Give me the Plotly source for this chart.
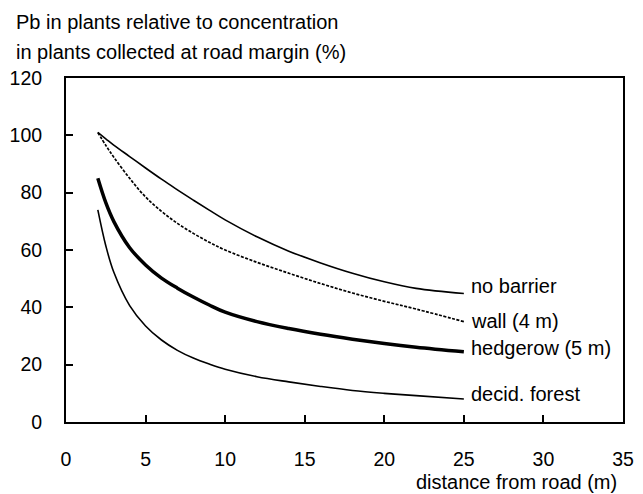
import plotly.graph_objects as go

# distance from road (m)
dist = [2, 2.5, 3, 4, 5, 6, 7, 8, 9, 10, 12, 14, 16, 18, 20, 22, 25]

no_barrier = [101, 98.8, 96.6, 92.6, 88.6, 84.7, 81.0, 77.4, 73.9, 70.5, 64.6, 59.6, 55.5, 51.9, 48.9, 46.6, 44.8]
wall_4m = [101, 96.5, 92.4, 85.0, 78.5, 73.5, 69.3, 65.8, 62.7, 60.0, 55.7, 51.9, 48.3, 45.0, 42.1, 39.4, 35.0]
hedgerow_5m = [85, 76.5, 70.0, 60.8, 54.8, 50.2, 46.7, 43.6, 40.8, 38.3, 35.0, 32.6, 30.6, 28.9, 27.4, 26.1, 24.5]
decid_forest = [74, 61.5, 52.3, 40.6, 33.5, 28.6, 25.0, 22.3, 20.2, 18.4, 15.8, 14.0, 12.4, 11.0, 10.0, 9.2, 8.0]

series_names = ["no barrier", "wall (4 m)", "hedgerow (5 m)", "decid. forest"]
label_y = [47.4, 35.2, 25.7, 9.7]

x_ticks = [0, 5, 10, 15, 20, 25, 30, 35]
y_ticks = [0, 20, 40, 60, 80, 100, 120]

FONT = "Liberation Sans, Arial, sans-serif"
FS = 20
TFS = 19.5

fig = go.Figure()
fig.add_trace(go.Scatter(x=dist, y=no_barrier, mode="lines", line=dict(color="black", width=1.6, shape="spline")))
fig.add_trace(go.Scatter(x=dist, y=wall_4m, mode="lines", line=dict(color="black", width=1.7, dash="3px,1.5px", shape="spline")))
fig.add_trace(go.Scatter(x=dist, y=hedgerow_5m, mode="lines", line=dict(color="black", width=3.5, shape="spline")))
fig.add_trace(go.Scatter(x=dist, y=decid_forest, mode="lines", line=dict(color="black", width=1.6, shape="spline")))

for name, yv in zip(series_names, label_y):
    fig.add_annotation(x=25.35, y=yv, xref="x", yref="y", text=name, showarrow=False,
                       xanchor="left", yanchor="middle", font=dict(family=FONT, size=FS, color="black"))

fig.add_annotation(x=13, y=22, xref="paper", yref="paper", text="Pb in plants relative to concentration",
                   showarrow=False, xanchor="left", yanchor="middle", font=dict(family=FONT, size=FS, color="black"))
fig.add_annotation(x=13, y=52, xref="paper", yref="paper", text="in plants collected at road margin (%)",
                   showarrow=False, xanchor="left", yanchor="middle", font=dict(family=FONT, size=FS, color="black"))
fig.add_annotation(x=630, y=482, xref="paper", yref="paper", text="distance from road (m)",
                   showarrow=False, xanchor="right", yanchor="middle", font=dict(family=FONT, size=FS, color="black"))

# convert pixel positions of the paper annotations
W, H = 643, 494
ml, mr, mt, mb = 66, 9, 78, 72
pw, ph = W - ml - mr, H - mt - mb
for a in fig.layout.annotations:
    if a.xref == "paper":
        a.x = (a.x - ml) / pw
        a.y = (H - mb - a.y) / ph

fig.update_layout(
    width=W, height=H,
    margin=dict(l=ml, r=mr, t=mt, b=mb, pad=0),
    paper_bgcolor="white", plot_bgcolor="white",
    showlegend=False,
    font=dict(family=FONT, size=FS, color="black"),
)
fig.update_xaxes(range=[0, 35], tickvals=x_ticks, ticks="inside", ticklen=7, tickwidth=1.5, tickcolor="black",
                 showline=True, linecolor="black", linewidth=2, mirror=True, showgrid=False, zeroline=False,
                 ticklabelstandoff=19, tickfont=dict(family=FONT, size=TFS, color="black"))
fig.update_yaxes(range=[0, 120], tickvals=y_ticks, ticks="inside", ticklen=7, tickwidth=1.5, tickcolor="black",
                 showline=True, linecolor="black", linewidth=2, mirror=True, showgrid=False, zeroline=False,
                 ticklabelstandoff=18, tickfont=dict(family=FONT, size=TFS, color="black"))

fig.write_html("out.html")
